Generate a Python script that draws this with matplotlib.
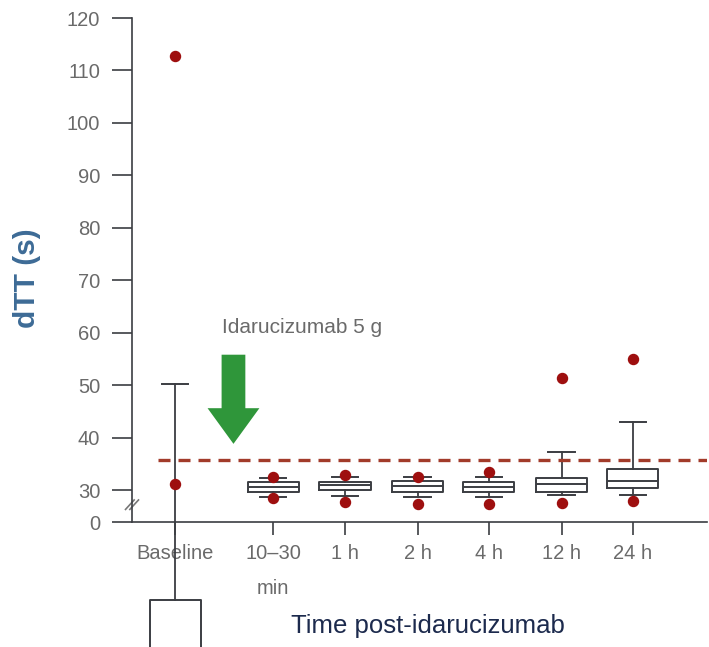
import matplotlib.pyplot as plt

# dTT over time after idarucizumab (seconds)
categories = ["Baseline", "10–30\nmin", "1 h", "2 h", "4 h", "12 h", "24 h"]
positions = [0, 1.36, 2.36, 3.37, 4.36, 5.37, 6.36]
q1 = [-8.0, 29.7, 30.0, 29.7, 29.6, 29.6, 30.3]
median = [-8.0, 30.6, 31.0, 30.8, 30.6, 31.1, 31.8]
q3 = [9.0, 31.6, 31.5, 31.8, 31.5, 32.2, 34.0]
whisker_low = [-8.0, 28.7, 28.9, 28.7, 28.7, 29.0, 29.0]
whisker_high = [50.2, 32.3, 32.5, 32.5, 32.5, 37.3, 42.9]
dots_high = [112.8, 32.5, 32.9, 32.4, 33.5, 51.3, 54.9]
dots_low = [31.1, 28.5, 27.8, 27.3, 27.3, 27.5, 27.9]
threshold = 35.7
ytick_labels = ["0", "30", "40", "50", "60", "70", "80", "90", "100", "110", "120"]
ytick_values = [0, 30, 40, 50, 60, 70, 80, 90, 100, 110, 120]

Y_ZERO = 23.9  # axis is broken between 0 and 30
LINE = "#3b3d42"
GREY = "#6a6a6a"
SANS = ["Liberation Sans Narrow", "Liberation Sans", "DejaVu Sans"]

fig = plt.figure(figsize=(7.09, 6.47), dpi=100)
ax = fig.add_axes([132 / 709, 1 - 522 / 647, (707 - 132) / 709, (522 - 18) / 647])

stats = []
for i in range(len(categories)):
    stats.append(dict(med=median[i], q1=q1[i], q3=q3[i],
                      whislo=whisker_low[i], whishi=whisker_high[i], fliers=[]))
art = ax.bxp(stats, positions=positions, widths=0.71, capwidths=0.37,
             showfliers=False, patch_artist=False,
             boxprops=dict(color=LINE, linewidth=1.4),
             whiskerprops=dict(color=LINE, linewidth=1.3),
             capprops=dict(color=LINE, linewidth=1.4),
             medianprops=dict(color=LINE, linewidth=1.4))
for group in art.values():
    for a in group:
        a.set_clip_on(False)

ax.scatter(positions, dots_high, s=52, color="#9e0f0f", zorder=5, clip_on=False)
ax.scatter(positions, dots_low, s=52, color="#9e0f0f", zorder=5, clip_on=False)

ax.plot([-0.24, 7.39], [threshold, threshold], color="#a23b2a", lw=2.4,
        dashes=(3.6, 2.4), zorder=4)

ax.arrow(0.81, 55.8, 0, 38.8 - 55.8, width=0.33, head_width=0.72,
         head_length=6.8, length_includes_head=True, color="#2f963a", lw=0)
ax.text(0.65, 60.9, "Idarucizumab 5 g", fontsize=15, color=GREY,
        family=SANS, va="center", ha="left")

# break mark on the y axis
for dx in (-0.03, 0.03):
    ax.plot([-0.66 + dx, -0.54 + dx], [26.3, 28.1], color="#777777", lw=1.2,
            clip_on=False)

ax.set_xlim(-0.6, 7.39)
ax.set_ylim(Y_ZERO, 120)
ax.set_yticks([Y_ZERO] + ytick_values[1:])
ax.set_yticklabels(ytick_labels)
ax.set_xticks(positions)
ax.set_xticklabels(categories, linespacing=2.05, va="top")

for s in ("top", "right"):
    ax.spines[s].set_visible(False)
for s in ("left", "bottom"):
    ax.spines[s].set_color(LINE)
    ax.spines[s].set_linewidth(1.2)
ax.tick_params(axis="y", length=14.4, width=1.2, color=LINE, pad=8.5,
               labelsize=14.5, labelcolor=GREY)
ax.tick_params(axis="x", length=9.4, width=1.2, color=LINE, pad=6.5,
               labelsize=14.5, labelcolor=GREY)
for lab in ax.get_xticklabels() + ax.get_yticklabels():
    lab.set_family(SANS)

fig.text(428 / 709, 1 - 626 / 647, "Time post-idarucizumab", fontsize=18.5,
         color="#1c2a4d", family=SANS, ha="center", va="center")
fig.text(27 / 709, 1 - 278 / 647, "dTT (s)", fontsize=21.5, color="#3d6b96",
         family=["Liberation Sans", "DejaVu Sans"], weight="bold", rotation=90,
         ha="center", va="center")

fig.savefig("out.png", dpi=100)
